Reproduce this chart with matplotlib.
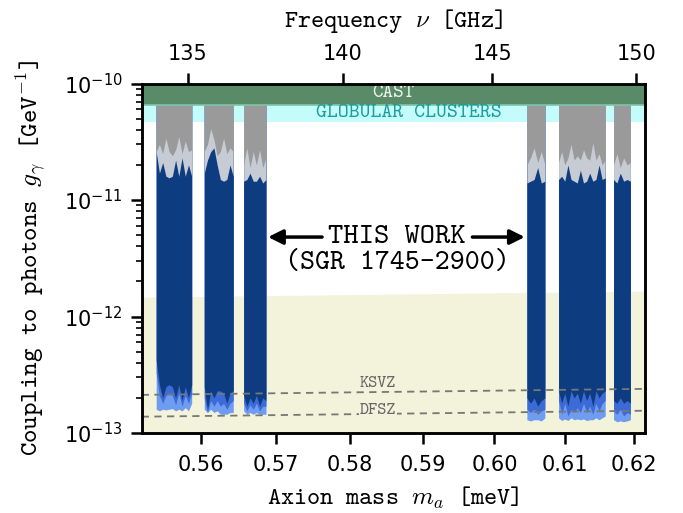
import os
import numpy as np
import matplotlib
matplotlib.use("Agg")
import matplotlib.pyplot as plt
from matplotlib import font_manager
from matplotlib.ticker import NullLocator, LogLocator, NullFormatter

# typewriter font shipped with matplotlib
TT_PATH = os.path.join(matplotlib.get_data_path(), "fonts", "ttf", "cmtt10.ttf")
font_manager.fontManager.addfont(TT_PATH)
TT = "cmtt10"

# ---------------- data ----------------
MEV_TO_GHZ = 241.799
xlim = (0.5523, 0.6216)
ylim = (1e-13, 1e-10)

cast_limit = 6.6e-11
gc_limit = 4.7e-11
band_coeff = 2.66e-12      # upper edge of axion band, g = coeff * m
ksvz_coeff = 3.85e-13
dfsz_coeff = 2.50e-13

win_lo = [0.55418, 0.56047, 0.56568, 0.60459, 0.60910, 0.61702]
win_hi = [0.55882, 0.56430, 0.56865, 0.60715, 0.61582, 0.61947]

# upper layers (units of 1e-11 GeV^-1)
gray_lo = [
    [2.6, 3.0, 2.5, 3.4, 2.6, 2.4, 2.7, 3.5, 2.5, 3.2, 2.6, 2.7],
    [2.6, 3.0, 4.1, 3.3, 2.4, 2.6, 3.4, 2.5, 2.8, 2.6],
    [2.0, 2.8, 1.9, 2.6, 2.0, 2.7, 1.9, 2.3],
    [2.0, 2.3, 2.8, 2.1, 2.6, 2.0],
    [2.1, 2.6, 2.0, 2.3, 3.0, 2.2, 2.4, 2.2, 2.7, 2.3, 2.2, 3.1, 2.2, 2.5, 2.0, 2.2],
    [2.0, 2.5, 1.9, 2.3, 2.0, 2.1],
]
silver_lo = [
    [2.6, 1.7, 2.1, 1.6, 1.55, 1.6, 2.2, 1.6, 2.3, 1.6, 2.0, 1.6],
    [1.7, 2.2, 2.6, 2.8, 2.0, 1.5, 1.45, 1.5, 2.0, 1.6],
    [1.45, 1.5, 1.7, 1.45, 1.45, 1.6, 1.4, 1.5],
    [1.4, 1.45, 1.5, 1.9, 1.4, 1.45],
    [1.5, 1.6, 1.45, 2.0, 1.5, 1.45, 1.4, 1.8, 1.4, 1.45, 1.7, 1.45, 1.5, 2.0, 1.5, 1.55],
    [1.5, 1.4, 1.7, 1.45, 1.5, 1.45],
]
# lower layers (units of 1e-13 GeV^-1)
navy_lo = [
    [4.2, 2.6, 2.0, 2.5, 2.6, 2.5, 2.0, 2.6, 1.9, 2.5, 2.0, 2.6],
    [2.5, 1.6, 2.3, 2.0, 2.3, 2.3, 2.2, 1.8, 2.2, 2.3],
    [2.1, 1.7, 2.0, 1.8, 2.1, 1.7, 2.0, 1.9],
    [2.0, 1.8, 2.0, 1.7, 1.9, 2.0],
    [2.3, 1.8, 2.2, 1.7, 2.3, 2.0, 2.2, 1.8, 2.3, 1.9, 2.2, 1.7, 2.3, 2.0, 2.2, 2.3],
    [1.9, 1.8, 2.0, 1.8, 1.9, 1.8],
]
mid_lo = [
    [3.3, 2.1, 1.8, 2.1, 2.2, 2.1, 1.75, 2.2, 1.7, 2.1, 1.8, 2.2],
    [2.0, 1.5, 1.9, 1.7, 1.9, 1.7, 1.8, 1.6, 1.8, 1.9],
    [1.8, 1.55, 1.75, 1.6, 1.8, 1.55, 1.7, 1.7],
    [1.6, 1.5, 1.6, 1.45, 1.55, 1.6],
    [1.9, 1.45, 1.8, 1.4, 1.6, 1.5, 1.65, 1.5, 1.8, 1.5, 1.7, 1.45, 1.8, 1.55, 1.8, 1.9],
    [1.55, 1.45, 1.6, 1.4, 1.5, 1.45],
]
light_lo = [
    [1.6, 1.55, 1.6, 1.58, 1.6, 1.62, 1.55, 1.6, 1.55, 1.65, 1.55, 1.8],
    [1.6, 1.5, 1.6, 1.5, 1.55, 1.45, 1.45, 1.45, 1.5, 1.5],
    [1.55, 1.45, 1.5, 1.45, 1.5, 1.45, 1.45, 1.45],
    [1.3, 1.27, 1.3, 1.3, 1.27, 1.35],
    [1.35, 1.28, 1.32, 1.28, 1.35, 1.3, 1.32, 1.3, 1.32, 1.28, 1.3, 1.3, 1.35, 1.3, 1.35, 1.4],
    [1.3, 1.25, 1.27, 1.25, 1.27, 1.3],
]

x_ticks = [0.56, 0.57, 0.58, 0.59, 0.60, 0.61, 0.62]
x_ticklabels = ["0.56", "0.57", "0.58", "0.59", "0.60", "0.61", "0.62"]
f_ticks = [135, 140, 145, 150]
f_ticklabels = ["135", "140", "145", "150"]

# ---------------- colours ----------------
C_CAST = "#5a8b69"
C_GC = "#c4fbfb"
C_BAND = "#f3f2da"
C_GRAY = "#9a9a9a"
C_SILVER = "#c6cbd4"
C_NAVY = "#0e3c80"
C_MID = "#3c6ad6"
C_LIGHT = "#6d9cf0"

# ---------------- figure ----------------
fig = plt.figure(figsize=(6.83, 5.13), dpi=100)
ax = fig.add_axes([0.2075, 0.1559, 0.7369, 0.6813])
ax.set_xscale("log")
ax.set_yscale("log")
ax.set_xlim(*xlim)
ax.set_ylim(*ylim)

mm = np.array(xlim)
# axion band
ax.fill_between(mm, ylim[0], band_coeff * mm, color=C_BAND, lw=0, zorder=1)
# globular clusters and CAST
ax.axhspan(gc_limit, cast_limit, color=C_GC, lw=0, zorder=1)
ax.axhspan(cast_limit, ylim[1], color=C_CAST, lw=0, zorder=5)
ax.axhline(cast_limit, color="#7fc4a8", lw=1.2, zorder=5)

# observation windows
for i in range(len(win_lo)):
    n = len(gray_lo[i])
    m = np.linspace(win_lo[i], win_hi[i], n)
    ax.fill_between(m, np.array(light_lo[i]) * 1e-13, cast_limit, color=C_LIGHT, lw=0, zorder=2)
    ax.fill_between(m, np.array(mid_lo[i]) * 1e-13, cast_limit, color=C_MID, lw=0, zorder=2.1)
    ax.fill_between(m, np.array(navy_lo[i]) * 1e-13, cast_limit, color=C_NAVY, lw=0, zorder=2.2)
    ax.fill_between(m, np.array(silver_lo[i]) * 1e-11, cast_limit, color=C_SILVER, lw=0, zorder=2.3)
    ax.fill_between(m, np.array(gray_lo[i]) * 1e-11, cast_limit, color=C_GRAY, lw=0, zorder=2.4)

# KSVZ / DFSZ lines
ax.plot(mm, ksvz_coeff * mm, ls=(0, (4, 3)), color="#777777", lw=1.3, zorder=3)
ax.plot(mm, dfsz_coeff * mm, ls=(0, (4, 3)), color="#777777", lw=1.3, zorder=3)
ax.text(0.4695, 2.68e-13, "KSVZ", transform=ax.get_yaxis_transform(), ha="center", va="center",
        family=TT, fontsize=12.5, color="#666666", zorder=4)
ax.text(0.4695, 1.56e-13, "DFSZ", transform=ax.get_yaxis_transform(), ha="center", va="center",
        family=TT, fontsize=12.5, color="#666666", zorder=4,
        bbox=dict(facecolor=C_BAND, edgecolor="none", pad=0.5))

# band labels
ax.text(0.4993, 8.3e-11, "CAST", transform=ax.get_yaxis_transform(), ha="center", va="center",
        family=TT, fontsize=14.5, color="#eef5e8", zorder=6)
ax.text(0.531, 5.55e-11, "GLOBULAR CLUSTERS", transform=ax.get_yaxis_transform(), ha="center",
        va="center", family=TT, fontsize=15, color="#1f9c9c", zorder=6)

# this work
ax.text(0.507, 4.75e-12, "THIS WORK", transform=ax.get_yaxis_transform(), ha="center",
        va="center", family=TT, fontsize=21, color="black", zorder=6)
ax.text(0.507, 2.83e-12, "(SGR 1745-2900)", transform=ax.get_yaxis_transform(), ha="center",
        va="center", family=TT, fontsize=20.5, color="black", zorder=6)
y_arrow = 4.81e-12
ax.annotate("", xy=(win_hi[2] * 1.0005, y_arrow), xytext=(0.5762, y_arrow),
            arrowprops=dict(arrowstyle="-|>", lw=2.5, color="k", mutation_scale=22,
                            shrinkA=0, shrinkB=0), zorder=6)
ax.annotate("", xy=(win_lo[3] * 0.9995, y_arrow), xytext=(0.5969, y_arrow),
            arrowprops=dict(arrowstyle="-|>", lw=2.5, color="k", mutation_scale=22,
                            shrinkA=0, shrinkB=0), zorder=6)

# axes styling
for s in ax.spines.values():
    s.set_linewidth(1.8)
    s.set_zorder(10)
ax.set_xticks(x_ticks)
ax.set_xticklabels(x_ticklabels)
ax.xaxis.set_minor_locator(NullLocator())
ax.yaxis.set_major_locator(LogLocator(base=10, numticks=10))
ax.yaxis.set_minor_locator(LogLocator(base=10, subs=np.arange(2, 10), numticks=10))
ax.yaxis.set_minor_formatter(NullFormatter())
ax.tick_params(axis="both", which="major", direction="out", length=8, width=1.8, labelsize=15)
ax.tick_params(axis="y", which="minor", direction="out", length=4, width=1.2)
ax.tick_params(axis="x", pad=8)
ax.tick_params(axis="y", pad=6)

ax.set_xlabel(r"Axion mass $m_a$ [meV]", family=TT, fontsize=18, math_fontfamily="cm", labelpad=7)
ax.set_ylabel(r"Coupling to photons $g_\gamma$ [GeV$^{-1}$]", family=TT, fontsize=18.5,
              math_fontfamily="cm", labelpad=11)

# top frequency axis
ax2 = ax.twiny()
ax2.set_xscale("log")
ax2.set_xlim(xlim[0] * MEV_TO_GHZ, xlim[1] * MEV_TO_GHZ)
ax2.set_xticks(f_ticks)
ax2.set_xticklabels(f_ticklabels)
ax2.xaxis.set_minor_locator(NullLocator())
ax2.tick_params(axis="x", which="major", direction="out", length=8, width=1.8, labelsize=15, pad=6)
for s in ax2.spines.values():
    s.set_linewidth(1.8)
ax2.set_xlabel(r"Frequency $\nu$ [GHz]", family=TT, fontsize=18, math_fontfamily="cm", labelpad=12)

fig.savefig("out.png", dpi=100)
